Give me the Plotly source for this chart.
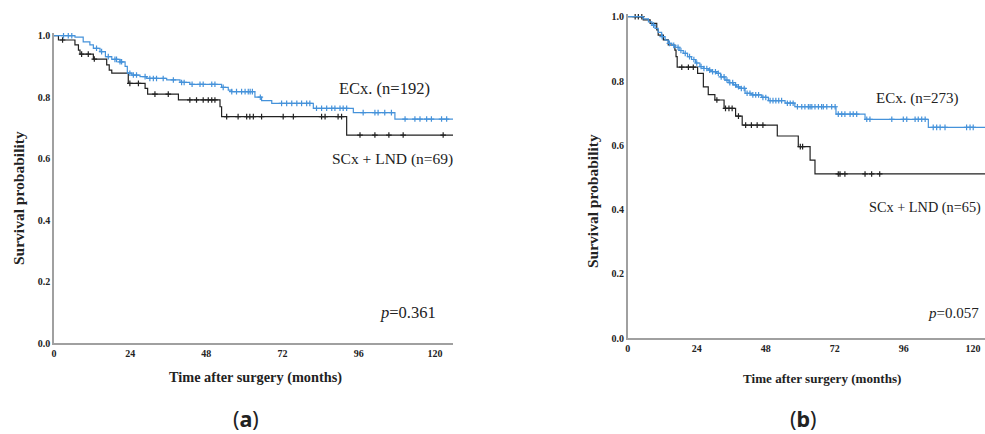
import numpy as np
import plotly.graph_objects as go

# ---------------- data ----------------
# Panel (a)
a_ec_times = [0, 6.6, 9.2, 11.3, 12.4, 14.5, 16.2, 18.2, 20.8, 22.4, 23.1, 24.5, 27.1, 29.2,
              35.5, 39.7, 42.8, 52.8, 54.9, 56.0, 63.3, 65.4, 68.6, 81.7, 94.3, 107.4]
a_ec_surv = [1.0, 0.995, 0.98, 0.97, 0.959, 0.948, 0.932, 0.923, 0.915, 0.90, 0.878, 0.872, 0.867, 0.861,
             0.856, 0.848, 0.842, 0.832, 0.823, 0.818, 0.80, 0.789, 0.78, 0.764, 0.75, 0.729]
a_ec_censor = [3, 4.5, 5.6, 13.4, 15, 17.1, 19.2, 19.7, 20.8, 21.3, 23.9, 25, 26, 28.7, 30.2, 31.3,
               32.3, 34.4, 37.6, 40.2, 41, 43.5, 46, 47, 49.7, 50.7, 53.3, 56, 57.5, 59.1, 60.2,
               61.2, 61.8, 62.5, 65.0, 71.7, 73.3, 74.9, 76.5, 78, 79.6, 80.6, 82.7, 84.3, 85.9,
               87.5, 88.5, 90.1, 91.1, 92.2, 97.4, 101.1, 102.1, 104.2, 106.3, 110.6, 113.7,
               115.3, 117.4, 118.9, 122.1, 123.7]
a_ec_last = 125.8

a_sc_times = [0, 1.4, 6.6, 7.7, 8.2, 12.4, 16.6, 17.4, 18.2, 23.4, 28.7, 29.5, 39.2, 52.3, 52.8, 92.2]
a_sc_surv = [1.0, 0.986, 0.97, 0.953, 0.94, 0.924, 0.905, 0.888, 0.878, 0.845, 0.829, 0.81, 0.791,
             0.769, 0.737, 0.677]
a_sc_censor = [2.7, 8.7, 10.8, 12.7, 23.9, 26.6, 31.8, 36, 42.8, 44.9, 47, 48.6, 49.7, 50.7, 54.4,
               58, 60.7, 61.7, 62.8, 65.4, 72.2, 75.4, 84.3, 85.4, 89.5, 90.6, 96.4, 101.1, 105.5,
               110, 122.6]
a_sc_last = 125.8

# Panel (b)
b_ec_times = [0, 5.4, 7.2, 8.4, 9.5, 10.6, 11.8, 13.0, 14.1, 15.3, 16.4, 17.9, 19.3, 20.8, 22.2,
              23.6, 25.1, 26.5, 28.0, 29.4, 30.9, 32.3, 33.8, 35.2, 36.7, 37.8, 39.0, 40.8, 43.1,
              46.6, 48.9, 54.7, 58.1, 72.4, 82.5, 104.5]
b_ec_surv = [1.0, 0.993, 0.984, 0.974, 0.964, 0.951, 0.938, 0.927, 0.917, 0.911, 0.905, 0.895,
             0.886, 0.876, 0.867, 0.856, 0.845, 0.839, 0.834, 0.829, 0.824, 0.813, 0.803, 0.795,
             0.788, 0.782, 0.777, 0.762, 0.757, 0.749, 0.739, 0.731, 0.72, 0.697, 0.681, 0.656]
b_ec_censor = [9, 12, 14.5, 16, 17.5, 18.5, 20, 21.5, 23, 24, 25.5, 26.5, 27.5, 28.5, 29.5, 30.5,
               31.5, 32.5, 33.5, 34.5, 35.5, 36.5, 37.5, 38.5, 39.5, 40.5, 41.5, 42.5, 43.5, 44.5,
               45.5, 47, 48, 49.5, 50.5, 51.5, 52.5, 53.5, 55.5, 56.5, 57.5, 59, 60.5, 61.6, 62.8,
               63.4, 64, 65.1, 66.3, 67.4, 68, 69.2, 70.9, 72.1, 73.2, 74.4, 75.5, 77.3, 78.4,
               79.6, 83.1, 84.2, 91.8, 95.8, 97, 99.9, 101, 102.2, 103.4, 106.2, 107.4, 108.6,
               110.3, 117.8, 119, 120.1]
b_ec_last = 124.5

b_sc_times = [0, 5.4, 7.8, 10.1, 10.6, 12.4, 14.1, 16.4, 16.8, 17.2, 24.3, 26.3, 28.0, 30.3, 33.5,
              37.5, 39.8, 52.0, 59.3, 63.4, 65.1]
b_sc_surv = [1.0, 0.99, 0.979, 0.959, 0.943, 0.928, 0.912, 0.896, 0.876, 0.843, 0.824, 0.782,
             0.758, 0.741, 0.715, 0.691, 0.663, 0.629, 0.596, 0.554, 0.511]
b_sc_censor = [2.6, 3.7, 4.9, 18.8, 21.1, 22.8, 31.0, 34.0, 35.2, 36.3, 38.5, 41, 43, 45, 47,
               60.0, 60.8, 73.2, 73.8, 75.5, 82.5, 84.8, 87.6]
b_sc_last = 124.5

x_ticks = [0, 24, 48, 72, 96, 120]
y_ticks = [0.0, 0.2, 0.4, 0.6, 0.8, 1.0]
y_ticktext = ["0.0", "0.2", "0.4", "0.6", "0.8", "1.0"]

BLUE = "#4592da"
BLACK = "#222222"


def surv_at(times, surv, t):
    idx = np.searchsorted(np.asarray(times), np.asarray(t), side="right") - 1
    return np.asarray(surv)[idx]


fig = go.Figure()


def add_km(times, surv, last, censor, color, xa, ya):
    xs = list(times) + [last]
    ys = list(surv) + [surv[-1]]
    fig.add_trace(go.Scatter(x=xs, y=ys, mode="lines", line=dict(color=color, width=1.2, shape="hv"),
                             xaxis=xa, yaxis=ya, showlegend=False, hoverinfo="skip"))
    fig.add_trace(go.Scatter(x=censor, y=surv_at(times, surv, censor), mode="markers",
                             marker=dict(symbol="cross-thin", size=4, line=dict(color=color, width=1.2)),
                             xaxis=xa, yaxis=ya, showlegend=False, hoverinfo="skip", cliponaxis=False))


add_km(a_sc_times, a_sc_surv, a_sc_last, a_sc_censor, BLACK, "x", "y")
add_km(a_ec_times, a_ec_surv, a_ec_last, a_ec_censor, BLUE, "x", "y")
add_km(b_sc_times, b_sc_surv, b_sc_last, b_sc_censor, BLACK, "x2", "y2")
add_km(b_ec_times, b_ec_surv, b_ec_last, b_ec_censor, BLUE, "x2", "y2")

W, H = 985, 434
tickfont = dict(family="Liberation Serif", size=10, color="#222", weight="bold")
axis_common = dict(showline=True, linecolor="#a0a0a0", linewidth=1.5, showgrid=False,
                   zeroline=False, ticks="", tickfont=tickfont, automargin=False)

fig.update_layout(
    width=W, height=H, margin=dict(l=0, r=0, t=0, b=0, autoexpand=False),
    paper_bgcolor="white", plot_bgcolor="white",
    xaxis=dict(axis_common, domain=[54 / W, 453 / W], range=[0, 125.7], tickvals=x_ticks, anchor="y"),
    yaxis=dict(axis_common, domain=[1 - 343.3 / H, 1 - 32.6 / H], range=[0, 1.01],
               tickvals=y_ticks, ticktext=y_ticktext, anchor="x"),
    xaxis2=dict(axis_common, domain=[627.7 / W, 1.0], range=[0, 124.2], tickvals=x_ticks, anchor="y2"),
    yaxis2=dict(axis_common, domain=[1 - 338.3 / H, 1 - 13.5 / H], range=[0, 1.01],
                tickvals=y_ticks, ticktext=y_ticktext, anchor="x2"),
)

serif = "Liberation Serif"


def ann(text, x, y, size, bold=False, angle=0, family=serif, xanchor="center", color="#222"):
    fig.add_annotation(text=text, x=x / W, y=1 - y / H, xref="paper", yref="paper",
                       showarrow=False, xanchor=xanchor, yanchor="middle", textangle=angle,
                       font=dict(family=family, size=size, color=color,
                                 weight="bold" if bold else "normal"))


# panel (a) texts
ann("Survival probability", 18, 198, 15.5, bold=True, angle=-90)
ann("Time after surgery (months)", 255, 377, 14.3, bold=True)
ann("ECx. (n=192)", 384, 88, 16.5)
ann("SCx + LND (n=69)", 392.5, 159, 15.5)
ann("<i>p</i>=0.361", 407.5, 312, 16.5)
ann("(<b>a</b>)", 246, 418, 21.5, family="Noto Sans")

# panel (b) texts
ann("Survival probability", 593, 201, 15.5, bold=True, angle=-90)
ann("Time after surgery (months)", 822, 378, 13.1, bold=True)
ann("ECx. (n=273)", 917.5, 98, 15)
ann("SCx + LND (n=65)", 925, 207, 14.3)
ann("<i>p</i>=0.057", 953, 313, 15)
ann("(<b>b</b>)", 803, 418, 21.5, family="Noto Sans")

fig.write_html("out.html", config={"displayModeBar": False},
               post_script="document.body.style.margin='0';document.body.style.overflow='hidden';")
